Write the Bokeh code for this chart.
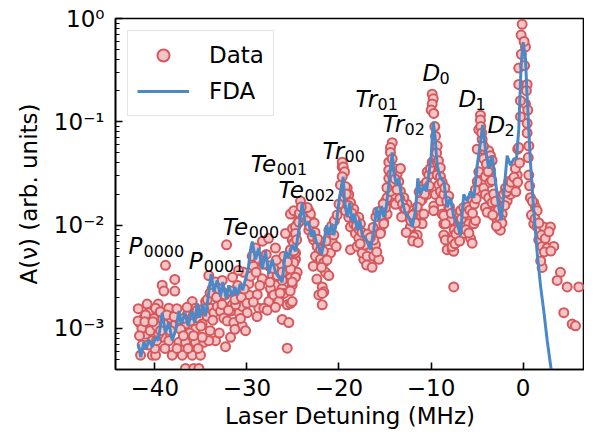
from bokeh.plotting import figure
from bokeh.models import (Range1d, FixedTicker, CustomJSTickFormatter, Legend,
                          LegendItem, Label)
from bokeh.embed import file_html
from bokeh.resources import INLINE

FONT = "DejaVu Sans"

# ---------------- data ----------------
data_x = [
    -41.80, -41.66, -41.55, -40.83, -40.65, -40.65, -40.28, -39.92, -39.63, -39.20,
    -39.02, -38.84, -37.83, -37.83, -38.48, -38.11, -37.39, -37.02, -36.67, -35.94,
    -35.58, -35.04, -34.68, -36.67, -35.77, -35.22, -35.94, -35.58, -34.49, -34.14,
    -33.41, -32.68, -33.77, -32.68, -31.60, -30.88, -30.51, -29.79, -28.71, -27.62,
    -27.25, -26.90, -26.17, -26.17, -25.45, -25.62, -26.54, -29.42, -28.71, -27.62,
    -28.34, -27.25, -25.99, -25.27,
    -38.29, -37.75, -37.39, -36.67, -36.48, -36.12, -35.58, -35.22, -34.85, -34.31,
    -33.95, -33.59, -33.22, -32.87, -32.51, -32.14, -31.78, -31.42, -31.24, -30.88,
    -30.51, -30.15, -29.97, -31.78, -32.32, -33.41, -34.14, -34.85, -39.57, -40.28,
    -41.01, -39.20, -41.37, -38.48, -39.92, -41.19,
    -32.21, -30.34, -29.79, -28.88, -28.16, -31.56, -30.91, -29.07, -28.31, -27.65,
    -26.90, -25.81, -25.05, -24.51, -24.91, -24.72, -25.27, -24.72, -25.08, -24.54,
    -26.17, -26.71, -26.35, -25.81,
    -27.44, -27.08, -26.54, -25.99, -25.62, -25.27, -26.17, -24.72, -24.91, -25.08,
    -24.72, -24.36,
    -24.18, -23.82, -23.28, -23.10, -23.28, -22.74, -22.37, -22.55, -22.01, -21.65,
    -21.47, -21.11, -21.82, -21.65, -22.19, -21.82, -20.92, -20.74, -20.56, -19.84,
    -19.65, -19.48, -19.30, -18.94, -18.75, -18.75, -18.21, -17.85, -17.48, -17.31,
    -16.94, -16.58, -16.58, -16.04, -15.50, -15.14, -14.77, -14.95, -14.59, -14.22,
    -14.05, -13.87, -12.60, -11.88, -12.24, -11.88, -11.51, -11.15, -10.97, -10.79,
    -10.42,
    -23.64, -23.10, -22.91, -25.27, -24.91, -24.72, -25.27, -25.08, -25.08, -21.82,
    -19.65, -19.54, -19.40, -19.65, -19.11, -19.30, -18.94, -18.75, -18.39, -17.85,
    -17.67, -18.39, -18.02, -17.48, -16.94, -16.22, -15.68, -16.22, -15.50, -15.14,
    -14.95, -14.77, -14.41,
    -14.22, -14.41, -14.41, -14.59, -14.22, -14.05, -13.68, -13.51, -13.33, -13.33,
    -12.96, -12.96, -12.24, -11.88, -11.34, -11.15, -10.97, -10.79, -10.42, -10.25,
    -10.07, -9.88, -23.45, -24.91,
    -9.88, -9.77, -9.88, -9.99, -9.71, -9.52, -9.34, -9.34, -9.16, -9.52,
    -9.71, -9.52, -9.34, -8.98, -9.16, -8.79, -8.98, -9.71, -8.98, -8.62,
    -8.25, -7.90, -8.79, -8.62, -8.44, -8.25, -7.71, -7.54,
    -8.08, -8.08, -8.62, -8.44, -8.62, -8.44, -7.71, -7.54, -7.71, -7.17,
    -6.81, -6.45, -6.08, -5.72, -5.54, -5.18, -4.99, -4.82, -4.45, -6.81,
    -6.45, -6.99, -6.62, -6.45, -5.91, -5.72, -5.54, -5.36, -5.18,
    -4.64, -4.64, -4.82, -4.99, -4.45, -4.28, -3.74, -3.55, -3.37, -3.55,
    -4.10, -4.28, -4.10, -3.74, -4.10, -3.91, -3.37, -3.01, -2.82, -2.65,
    -2.47, -2.28, -2.11, -1.92, -1.56, -1.74, -1.38, -1.19, -0.84, -0.65,
    -0.84, -0.59,
    -0.11, -0.22, 0.25, -0.48, -0.48, 0.43, 0.25, -0.29, 0.43, 0.43,
    0.61, -0.48, 0.61, 0.79, 1.15, 1.34, 1.52, 1.15, 1.52, 1.88,
    2.24, 2.96, 1.69, 2.06, 2.61, 3.32, 2.06, 4.05, 3.69, 4.78,
    6.04, 4.41, 5.32, 5.68,
    # second reading pass (denser bands)
    -41.40, -41.00, -40.50, -40.10, -39.80, -39.40, -39.00, -38.70, -38.30, -37.90,
    -37.60, -37.20, -36.90, -36.50, -36.20, -35.80, -35.40, -35.00, -34.70, -34.30,
    -34.00, -33.70, -33.30, -33.00, -32.70, -32.40, -32.00, -31.70, -31.30, -31.00,
    -30.60, -30.30, -30.00,
    -40.00, -38.90, -37.60, -36.40, -35.30, -34.00, -33.00, -31.30, -30.70, -36.90,
    -35.80, -39.60, -41.82, -41.08, -40.21, -39.38, -41.66, -40.74, -39.81,
    -29.60, -29.30, -29.00, -28.60, -28.20, -27.90, -27.50, -27.10, -26.80, -26.40,
    -26.00, -25.60, -25.30, -24.90, -24.60, -24.30, -24.10, -23.90, -28.90, -27.80,
    -26.90, -29.30,
    -23.50, -23.20, -22.90, -22.60, -22.30, -22.00, -21.70, -21.40, -21.10, -20.80,
    -20.50, -20.20, -20.00, -22.80, -22.40, -21.30, -20.30, -21.90, -22.70,
    -19.20, -19.00, -18.60, -18.30, -18.10, -17.80, -17.50, -17.20, -16.90, -16.60,
    -16.30, -16.00, -15.80, -15.40, -15.20, -17.00, -16.40, -15.90, -17.70,
    -14.80, -14.60, -14.30, -13.90, -13.70, -13.40, -13.10, -12.80, -12.50, -12.20,
    -12.00, -11.70, -11.50, -11.30, -11.00, -10.70, -10.50, -10.20, -12.70, -12.00,
    -11.40, -13.20,
    -9.60, -9.40, -9.20, -9.00, -8.80, -8.50, -8.30, -8.00, -7.80, -7.50,
    -7.30, -7.00, -6.70, -6.30, -6.00, -5.80, -5.50, -5.30, -5.10, -7.40,
    -6.90, -6.20, -5.90,
    -4.60, -4.50, -4.30, -4.00, -3.80, -3.60, -3.40, -3.20, -3.00, -2.70,
    -2.50, -2.30, -2.00, -1.80, -1.50, -1.30, -1.00, -0.80, -0.60, -0.40,
    -0.30, -0.20, 0.10, 0.15, 0.35, 0.50, 0.55, 0.70, -3.30, -2.90,
    0.90, 1.00, 1.30, 1.70, 2.00, 2.40, 2.80, 2.30, 1.90, 3.00,
]
data_y = [
    1.55e-3, 1.14e-3, 5.5e-4, 1.72e-3, 1.14e-3, 1.42e-3, 5.5e-4, 5.5e-4, 1.72e-3, 2.62e-3,
    2.30e-3, 4.08e-3, 2.98e-3, 2.30e-3, 1.57e-3, 5.5e-4, 7.33e-4, 5.5e-4, 7.33e-4, 5.5e-4,
    7.33e-4, 5.5e-4, 7.33e-4, 4.1e-4, 4.1e-4, 4.1e-4, 1.82e-3, 1.57e-3, 1.82e-3, 3.25e-3,
    2.81e-3, 2.91e-3, 2.43e-3, 2.26e-3, 1.69e-3, 1.42e-3, 1.63e-3, 2.11e-3, 1.57e-3, 1.82e-3,
    2.18e-3, 2.62e-3, 2.43e-3, 1.22e-3, 1.14e-3, 6.43e-4, 1.96e-3, 5.0e-3, 4.66e-3, 4.03e-3,
    3.02e-3, 3.25e-3, 3.02e-3, 3.25e-3,
    1.26e-3, 1.10e-3, 1.22e-3, 1.10e-3, 1.36e-3, 1.18e-3, 9.85e-4, 1.26e-3, 1.10e-3, 1.31e-3,
    1.57e-3, 1.42e-3, 1.63e-3, 1.47e-3, 1.26e-3, 1.18e-3, 1.47e-3, 1.14e-3, 1.69e-3, 1.96e-3,
    1.06e-3, 9.5e-4, 1.42e-3, 8.2e-4, 6.65e-4, 7.6e-4, 7.6e-4, 8.2e-4, 1.18e-3, 7.6e-4,
    8.8e-4, 8.2e-4, 6.9e-4, 7.6e-4, 1.57e-3, 1.26e-3,
    6.45e-3, 3.49e-3, 2.71e-3, 2.12e-3, 1.57e-3, 3.13e-3, 3.64e-3, 6.0e-3, 6.98e-3, 7.45e-3,
    6.0e-3, 8.31e-3, 9.26e-3, 1.03e-2, 1.28e-2, 9.6e-3, 5.78e-3, 4.66e-3, 2.62e-3, 3.49e-3,
    2.93e-3, 3.25e-3, 4.17e-3, 3.62e-3,
    2.43e-3, 2.11e-3, 1.82e-3, 2.18e-3, 1.69e-3, 1.75e-3, 3.49e-3, 3.13e-3, 4.33e-3, 7.18e-3,
    8.31e-3, 1.07e-2,
    0.0171, 0.0148, 0.0138, 0.0115, 8.93e-3, 7.18e-3, 6.22e-3, 5.0e-3, 4.66e-3, 4.33e-3,
    3.49e-3, 3.25e-3, 2.52e-3, 2.26e-3, 2.11e-3, 1.69e-3, 5.38e-3, 6.94e-3, 8.0e-3, 0.0245,
    0.0365, 0.0184, 0.0138, 0.0119, 9.6e-3, 5.78e-3, 8.31e-3, 7.45e-3, 5.58e-3, 4.66e-3,
    6.94e-3, 5.78e-3, 4.66e-3, 6.45e-3, 8.6e-3, 0.0107, 0.0128, 0.0171, 0.0284, 0.0245,
    0.0198, 0.0159, 0.0159, 0.0128, 9.26e-3, 8.0e-3, 8.0e-3, 0.0119, 0.0177, 0.0245,
    0.0328,
    0.0128, 0.0128, 0.0103, 0.0128, 6.69e-3, 5.38e-3, 3.75e-3, 2.81e-3, 1.82e-3, 2.18e-3,
    0.0407, 0.0365, 0.0328, 0.0294, 0.0228, 0.0236, 0.0198, 0.0165, 0.0143, 0.0119,
    0.0103, 0.0103, 6.22e-3, 5.38e-3, 5.0e-3, 5.0e-3, 4.66e-3, 7.18e-3, 8.31e-3, 0.0103,
    0.0148, 0.0184, 0.0212,
    0.0628, 0.0563, 0.0505, 0.0407, 0.0438, 0.0353, 0.0316, 0.0264, 0.0353, 0.0212,
    0.0184, 0.0148, 9.6e-3, 7.73e-3, 0.0128, 0.0171, 0.0103, 0.0128, 0.0198, 0.0305,
    0.0353, 0.0407, 0.0148, 0.0138,
    0.185, 0.167, 0.149, 0.130, 0.1205, 0.0726, 0.0584, 0.0407, 0.034, 0.0198,
    0.0153, 0.047, 0.0305, 0.0294, 0.0245, 0.0198, 0.0171, 0.0138, 0.0212, 0.0198,
    0.0128, 0.0111, 0.0128, 0.0103, 7.73e-3, 5.78e-3, 5.78e-3, 2.52e-3,
    0.0191, 0.0148, 0.0124, 0.0103, 8.0e-3, 7.18e-3, 7.18e-3, 5.58e-3, 6.22e-3, 9.6e-3,
    8.93e-3, 0.0111, 0.0103, 0.0119, 0.0171, 0.0220, 0.0264, 0.0328, 0.0543, 0.0138,
    0.0148, 0.0111, 9.6e-3, 8.31e-3, 0.0103, 7.45e-3, 6.69e-3, 0.0103, 0.0111,
    0.116, 0.104, 0.084, 0.0543, 0.0675, 0.0438, 0.0524, 0.047, 0.0422, 0.034,
    0.0294, 0.0228, 0.0198, 0.0184, 0.0148, 0.0133, 0.0165, 0.0138, 0.0111, 9.26e-3,
    8.93e-3, 0.0128, 0.0198, 0.0228, 0.0264, 0.0171, 0.0198, 0.0228, 0.0245, 0.0305,
    0.0353, 0.0543,
    0.878, 0.692, 0.53, 0.331, 0.230, 0.230, 0.149, 0.112, 0.0967, 0.078,
    0.0584, 0.0563, 0.0305, 0.0184, 0.0165, 0.0148, 0.0138, 0.0103, 9.6e-3, 8.93e-3,
    9.6e-3, 9.6e-3, 7.18e-3, 6.22e-3, 6.0e-3, 6.22e-3, 3.89e-3, 3.49e-3, 2.91e-3, 2.52e-3,
    2.52e-3, 1.42e-3, 1.10e-3, 1.06e-3,
    # second reading pass (denser bands)
    1.0e-3, 1.35e-3, 9.5e-4, 1.25e-3, 1.05e-3, 1.45e-3, 1.1e-3, 1.35e-3, 9.5e-4, 1.3e-3,
    1.55e-3, 9.8e-4, 1.25e-3, 1.6e-3, 9.0e-4, 1.35e-3, 1.5e-3, 1.05e-3, 1.55e-3, 1.9e-3,
    2.2e-3, 1.2e-3, 2.0e-3, 2.4e-3, 1.7e-3, 2.1e-3, 1.5e-3, 2.3e-3, 1.9e-3, 2.6e-3,
    2.0e-3, 2.4e-3, 1.75e-3,
    6.4e-4, 6.4e-4, 6.4e-4, 6.4e-4, 6.4e-4, 9.5e-4, 9.0e-4, 9.8e-4, 1.25e-3, 8.5e-4,
    8.5e-4, 8.8e-4, 1.18e-3, 1.16e-3, 1.16e-3, 9.5e-4, 8.5e-4, 6.9e-4, 7.6e-4,
    3.2e-3, 4.0e-3, 3.5e-3, 2.6e-3, 4.2e-3, 5.2e-3, 2.8e-3, 3.8e-3, 4.6e-3, 2.2e-3,
    5.0e-3, 4.4e-3, 2.3e-3, 5.6e-3, 7.2e-3, 1.3e-2, 1.5e-2, 1.2e-2, 1.3e-3, 1.5e-3,
    1.6e-3, 1.8e-3,
    1.1e-2, 9.8e-3, 7.8e-3, 8.5e-3, 7.3e-3, 5.8e-3, 5.6e-3, 7.0e-3, 8.9e-3, 9.8e-3,
    1.1e-2, 1.25e-2, 1.6e-2, 4.0e-3, 3.0e-3, 4.6e-3, 6.2e-3, 3.9e-3, 1.05e-2,
    2.0e-2, 1.55e-2, 1.3e-2, 1.15e-2, 9.8e-3, 9.0e-3, 8.5e-3, 6.4e-3, 8.2e-3, 7.6e-3,
    9.5e-3, 1.2e-2, 1.35e-2, 1.25e-2, 1.6e-2, 4.1e-3, 3.9e-3, 5.5e-3, 6.6e-3,
    2.3e-2, 3.4e-2, 3.1e-2, 2.8e-2, 2.2e-2, 1.8e-2, 1.6e-2, 1.45e-2, 1.2e-2, 1.1e-2,
    1.25e-2, 1.05e-2, 1.5e-2, 2.1e-2, 2.2e-2, 2.0e-2, 2.6e-2, 2.4e-2, 8.5e-3, 7.0e-3,
    6.8e-3, 1.2e-2,
    9.0e-2, 5.0e-2, 4.2e-2, 3.6e-2, 2.6e-2, 2.3e-2, 1.7e-2, 1.5e-2, 1.3e-2, 9.0e-3,
    8.2e-3, 9.0e-3, 1.15e-2, 1.3e-2, 1.5e-2, 1.4e-2, 1.3e-2, 1.6e-2, 1.8e-2, 6.6e-3,
    7.0e-3, 9.0e-3, 8.4e-3,
    9.0e-2, 7.8e-2, 5.8e-2, 3.9e-2, 3.3e-2, 2.6e-2, 2.7e-2, 2.0e-2, 1.7e-2, 1.4e-2,
    1.15e-2, 1.05e-2, 1.55e-2, 2.1e-2, 2.3e-2, 2.6e-2, 2.9e-2, 2.1e-2, 2.6e-2, 4.0e-2,
    1.6e-1, 4.5e-1, 6.0e-1, 3.5e-1, 2.0e-1, 1.3e-1, 4.5e-2, 2.4e-2, 1.25e-2, 9.8e-3,
    1.25e-2, 1.7e-2, 1.15e-2, 1.05e-2, 8.0e-3, 7.4e-3, 8.6e-3, 5.5e-3, 4.5e-3, 5.6e-3,
]

fda_x = [
    -41.80, -41.52, -41.19, -40.93, -40.65, -40.28, -39.92, -39.63, -39.20, -38.84,
    -38.48, -38.11, -37.75, -37.39, -37.10, -36.74, -36.37, -36.02, -35.66, -35.40,
    -35.15, -34.79, -34.50, -34.20, -33.88, -33.59, -33.22, -32.87, -32.62, -32.25,
    -31.97, -31.60, -31.31, -31.02, -30.73, -30.45, -30.15, -29.86, -29.61, -29.42,
    -29.07, -28.71, -28.34, -27.98, -27.62, -27.25, -26.89, -26.54, -26.17, -25.81,
    -25.45, -25.08, -24.72, -24.36, -24.00, -23.64, -23.28, -23.02, -22.74, -22.48,
    -22.19, -21.90, -21.65, -21.36, -21.11, -20.81, -20.56, -20.27, -19.95, -19.54,
    -19.40, -19.11, -18.83, -18.57, -18.32, -18.02, -17.74, -17.48, -17.12, -16.87,
    -16.58, -16.22, -15.93, -15.68, -15.39, -15.14, -14.87, -14.59, -14.22, -14.05,
    -13.76, -13.51, -13.14, -12.78, -12.42, -12.05, -11.69, -11.44, -11.15, -10.79,
    -10.50, -10.25, -9.99, -9.77, -9.58, -9.34, -8.98, -8.62, -8.25, -7.89,
    -7.54, -7.17, -6.81, -6.45, -6.08, -5.72, -5.36, -4.99, -4.64, -4.40,
    -4.09, -3.74, -3.37, -3.01, -2.65, -2.39, -2.11, -1.74, -1.38, -1.02,
    -0.73, -0.48, -0.22, 0.00, 0.25, 0.43, 0.79, 1.15, 1.52, 1.88,
    2.24, 2.61, 3.04, 3.30,
]
fda_y = [
    7.0e-4, 5.25e-4, 7.36e-4, 6.38e-4, 7.76e-4, 6.61e-4, 8.2e-4, 7.64e-4, 1.41e-3, 9.15e-4,
    1.14e-3, 7.64e-4, 9.5e-4, 1.47e-3, 1.10e-3, 1.41e-3, 1.06e-3, 1.47e-3, 1.14e-3, 1.75e-3,
    1.27e-3, 1.69e-3, 1.31e-3, 2.03e-3, 3.36e-3, 2.26e-3, 2.91e-3, 2.03e-3, 2.81e-3, 1.95e-3,
    2.61e-3, 2.03e-3, 2.52e-3, 2.10e-3, 2.70e-3, 2.34e-3, 3.02e-3, 3.74e-3, 5.78e-3, 6.93e-3,
    4.65e-3, 6.0e-3, 3.74e-3, 5.58e-3, 3.36e-3, 4.65e-3, 3.49e-3, 3.13e-3, 2.81e-3, 5.58e-3,
    4.83e-3, 6.44e-3, 5.58e-3, 8.91e-3, 0.0165, 9.93e-3, 0.0107, 7.73e-3, 8.91e-3, 6.93e-3,
    6.0e-3, 5.19e-3, 6.68e-3, 9.93e-3, 8.0e-3, 0.0103, 8.0e-3, 0.0107, 0.0184, 0.0294,
    0.0171, 0.0119, 0.0165, 0.0107, 0.0128, 8.91e-3, 0.0111, 8.0e-3, 7.45e-3, 6.68e-3,
    5.78e-3, 8.91e-3, 0.0148, 0.0111, 0.0153, 0.0119, 0.0148, 0.0245, 0.0505, 0.0327,
    0.0245, 0.0284, 0.0171, 0.0128, 0.0119, 9.6e-3, 0.0138, 0.0284, 0.0198, 0.0245,
    0.0212, 0.0305, 0.047, 0.100, 0.0726, 0.0379, 0.0284, 0.0264, 0.0149, 0.0184,
    0.0120, 0.0103, 7.94e-3, 0.0198, 0.0171, 0.0212, 0.0184, 0.0379, 0.0628, 0.0935,
    0.0544, 0.0352, 0.047, 0.0264, 0.0148, 0.0111, 0.0198, 0.047, 0.0379, 0.0438,
    0.0438, 0.0839, 0.356, 0.59, 0.411, 0.173, 0.0407, 0.0138, 5.38e-3, 2.61e-3,
    1.47e-3, 7.64e-4, 4.0e-4, 3.0e-4,
]

x_ticks = [-40, -30, -20, -10, 0]
y_ticks = [1e-3, 1e-2, 1e-1, 1.0]

# peak annotations: (main, subscript, x, baseline y)
peak_names = ["P", "P", "Te", "Te", "Te", "Tr", "Tr", "Tr", "D", "D", "D"]
peak_subs = ["0000", "0001", "000", "001", "002", "00", "01", "02", "0", "1", "2"]
peak_x = [-42.86, -36.32, -32.63, -29.59, -26.57, -21.79, -18.21, -15.28, -10.93, -7.02, -3.87]
peak_y = [6.26e-3, 4.52e-3, 9.66e-3, 0.0387, 0.0220, 0.0524, 0.165, 0.0962, 0.297, 0.165, 0.094]

# ---------------- figure ----------------
p = figure(width=584, height=431, y_axis_type="log",
           x_range=Range1d(-44.27, 6.66), y_range=Range1d(4.0e-4, 1.0),
           output_backend="svg", toolbar_location=None,
           min_border_left=115, min_border_right=0, min_border_top=18,
           min_border_bottom=61)
p.background_fill_color = "white"
p.border_fill_color = "white"
p.xgrid.visible = False
p.ygrid.visible = False
p.outline_line_color = "black"
p.outline_line_width = 1.6
p.outline_line_alpha = 1.0

sc = p.scatter(x=data_x, y=data_y, marker="circle", size=9,
               fill_color="#f4c5c6", line_color="#d6585c", line_width=2)
ln = p.line(x=fda_x, y=fda_y, line_color="#4a88c7", line_width=3)

minor = [m * 10.0 ** e for e in (-4, -3, -2, -1) for m in range(2, 10)]
p.xaxis.ticker = FixedTicker(ticks=x_ticks, minor_ticks=[])
p.yaxis.ticker = FixedTicker(ticks=y_ticks, minor_ticks=minor)
p.xaxis.formatter = CustomJSTickFormatter(
    code="return tick < 0 ? '\u2212' + Math.abs(tick) : String(tick);")
p.yaxis.formatter = CustomJSTickFormatter(code="""
const e = Math.round(Math.log10(tick));
const m = {"0":"\u2070","1":"\u00b9","2":"\u00b2","3":"\u00b3","4":"\u2074","-":"\u207b"};
return "10" + String(e).split("").map(c => m[c]).join("");
""")

for ax in (p.xaxis[0], p.yaxis[0]):
    ax.axis_line_width = 1.6
    ax.axis_line_color = "black"
    ax.major_tick_in = 7
    ax.major_tick_out = 0
    ax.minor_tick_in = 4
    ax.minor_tick_out = 0
    ax.major_tick_line_width = 1.6
    ax.minor_tick_line_width = 1.1
    ax.major_tick_line_color = "black"
    ax.minor_tick_line_color = "black"
    ax.major_label_text_font = FONT
    ax.major_label_text_font_size = "23px"
    ax.major_label_text_color = "black"
    ax.axis_label_text_font = FONT
    ax.axis_label_text_font_size = "23px"
    ax.axis_label_text_font_style = "normal"
    ax.axis_label_text_color = "black"

p.xaxis.axis_label = "Laser Detuning (MHz)"
p.xaxis.major_label_standoff = 9
p.xaxis.axis_label_standoff = 4
p.yaxis.axis_label = "A(\u03bd) (arb. units)"
p.yaxis.major_label_standoff = 11
p.yaxis.axis_label_standoff = 9

main_w = {"P": 15, "Te": 26, "Tr": 22, "D": 17}
for name, sub, x, y in zip(peak_names, peak_subs, peak_x, peak_y):
    p.add_layout(Label(x=x, y=y, text=name, text_font=FONT, text_font_size="23px",
                       text_font_style="italic", text_color="black",
                       text_baseline="alphabetic", text_align="left"))
    p.add_layout(Label(x=x, y=y, x_offset=main_w[name], y_offset=-5, text=sub,
                       text_font=FONT, text_font_size="16px", text_color="black",
                       text_baseline="alphabetic", text_align="left"))

legend = Legend(items=[LegendItem(label="Data", renderers=[sc]),
                       LegendItem(label="FDA", renderers=[ln])],
                location="top_left")
legend.margin = 12
legend.padding = 9
legend.spacing = 6
legend.glyph_width = 52
legend.glyph_height = 30
legend.label_height = 30
legend.label_standoff = 20
legend.label_text_font = FONT
legend.label_text_font_size = "23px"
legend.label_text_color = "black"
legend.border_line_color = "#cccccc"
legend.border_line_width = 1.5
legend.background_fill_alpha = 0.85
p.add_layout(legend)

open("out.html", "w").write(file_html(p, INLINE))
